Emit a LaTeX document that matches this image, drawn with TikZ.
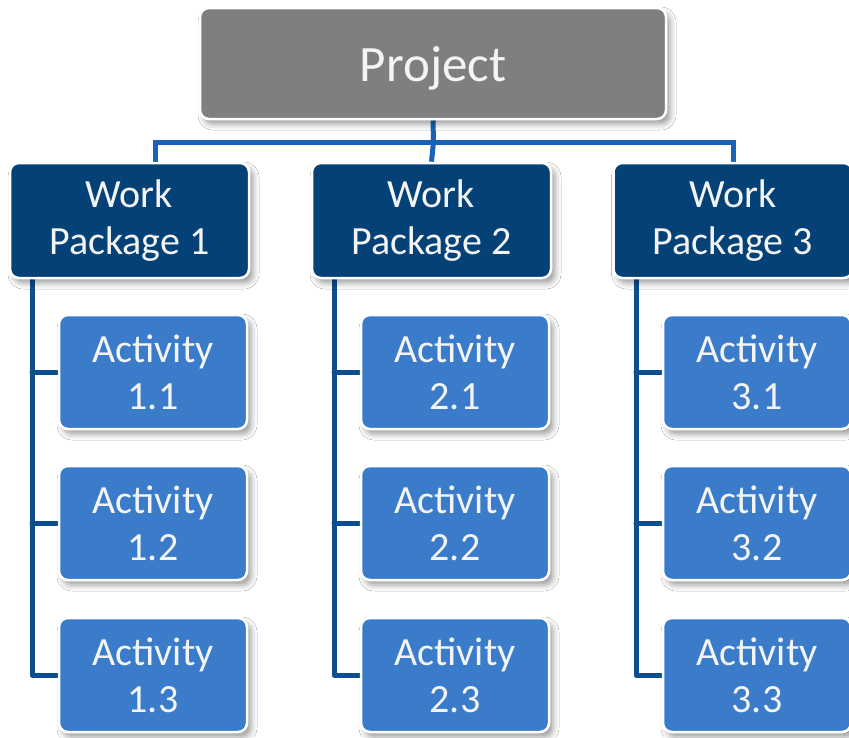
\documentclass[tikz,border=0pt]{standalone}
\usepackage{fontspec}
\setmainfont{Carlito}
\usetikzlibrary{shadows.blur,backgrounds,calc}
\definecolor{projgray}{HTML}{7F7F7F}
\definecolor{wpblue}{HTML}{034176}
\definecolor{actblue}{HTML}{3A7CC9}
\definecolor{busblue}{HTML}{1A62B8}
\definecolor{colblue}{HTML}{0D4E92}
\definecolor{txt}{HTML}{F4F4F4}
\tikzset{
  boxbase/.style={rounded corners=9pt, draw=white, line width=2.5pt, inner sep=0pt,
    align=center, text=txt,
    blur shadow={shadow xshift=4pt, shadow yshift=-5pt, shadow blur radius=6pt, shadow opacity=40}},
  projbox/.style={boxbase, fill=projgray, minimum width=466pt, minimum height=111pt,
    text depth=0pt, font=\fontsize{51}{60}\selectfont},
  wpbox/.style={boxbase, fill=wpblue, minimum width=239pt, minimum height=115pt,
    font=\fontsize{40}{47}\selectfont},
  actbox/.style={boxbase, fill=actblue, minimum width=188pt, minimum height=114pt,
    font=\fontsize{40}{47}\selectfont},
  bus/.style={draw=busblue, line width=5pt},
  colline/.style={draw=colblue, line width=5pt, line cap=round, line join=round}
}
\begin{document}
\begin{tikzpicture}[x=1pt,y=-1pt]
\useasboundingbox (0,0) rectangle (849,737);
% nodes
\node[projbox] (P) at (433,63.5) {Project};
\node[wpbox] (WP1) at (129.5,220.5) {Work\\Package 1};
\node[wpbox] (WP2) at (431.5,220.5) {Work\\Package 2};
\node[wpbox] (WP3) at (733,220.5) {Work\\Package 3};
\foreach \c/\ax in {1/153,2/455,3/757}{
  \node[actbox] (A\c1) at (\ax,372) {Activity\\\c.1};
  \node[actbox] (A\c2) at (\ax,523) {Activity\\\c.2};
  \node[actbox] (A\c3) at (\ax,675) {Activity\\\c.3};
}
\coordinate (bus) at (433.5,142);
\coordinate (d1) at (155,163);
\coordinate (c1) at (32,279);
\coordinate (c2) at (334,279);
\coordinate (c3) at (636,279);
\begin{scope}[on background layer]
  \fill[white] (0,0) rectangle (849,737);
  \draw[bus] (P.south) -- (bus);
  \draw[bus] (d1) |- (bus) -| (WP3.north);
  \draw[bus] (bus) -- (WP2.north);
  \foreach \c in {1,2,3}{
    \draw[colline] (WP\c.south -| c\c) |- (A\c3.west);
    \draw[colline] (c\c |- A\c1.west) -- (A\c1.west);
    \draw[colline] (c\c |- A\c2.west) -- (A\c2.west);
  }
\end{scope}
\end{tikzpicture}
\end{document}
